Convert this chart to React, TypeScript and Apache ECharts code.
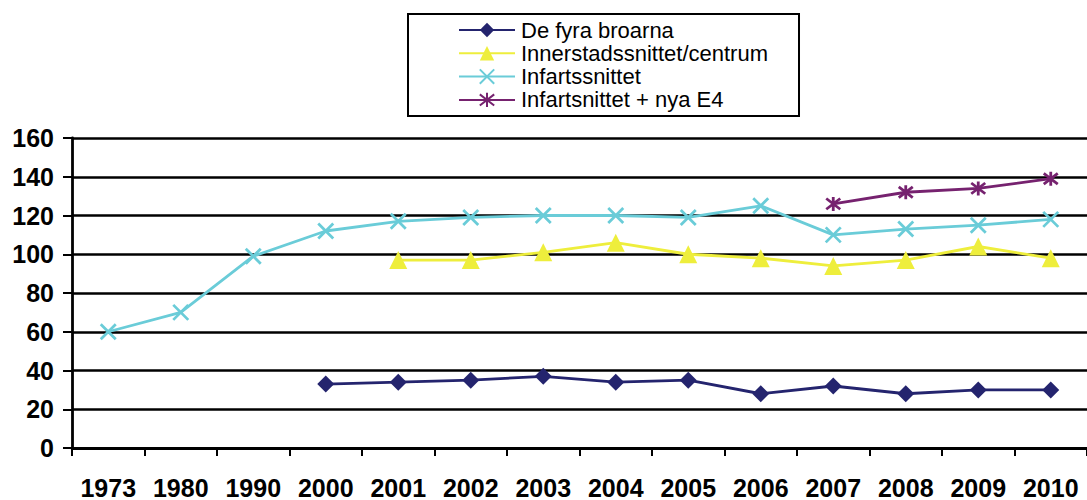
import React, { useEffect, useRef } from "react";
import * as echarts from "echarts";

const years = ["1973", "1980", "1990", "2000", "2001", "2002", "2003", "2004", "2005", "2006", "2007", "2008", "2009", "2010"];
const deFyraBroarna = [null, null, null, 33, 34, 35, 37, 34, 35, 28, 32, 28, 30, 30];
const innerstadssnittet = [null, null, null, null, 97, 97, 101, 106, 100, 98, 94, 97, 104, 98];
const infartssnittet = [60, 70, 99, 112, 117, 119, 120, 120, 119, 125, 110, 113, 115, 118];
const infartsE4 = [null, null, null, null, null, null, null, null, null, null, 126, 132, 134, 139];
const yTicks = { min: 0, max: 160, interval: 20 };

const FONT = "'Liberation Sans', Arial, sans-serif";
const X_SYMBOL = "path://M0,0L10,10M10,0L0,10";
const STAR_SYMBOL = "path://M0,0L10,10M10,0L0,10M5,-1.5L5,11.5";

export default function App() {
  const ref = useRef<HTMLDivElement>(null);
  useEffect(() => {
    if (!ref.current) return;
    const chart = echarts.init(ref.current, undefined, { renderer: "svg" });
    const mk = (name: string, data: any[], color: string, symbol: string, size: number, stroke: boolean) => ({
      name,
      type: "line",
      data,
      symbol,
      symbolSize: size,
      showSymbol: true,
      lineStyle: { color, width: 2.8 },
      itemStyle: stroke
        ? { color: color, borderColor: color, borderWidth: 2.8 }
        : { color, borderWidth: 0 },
      emphasis: { disabled: true },
    });
    chart.setOption({
      animation: false,
      textStyle: { fontFamily: FONT },
      legend: {
        orient: "vertical",
        left: 408,
        top: 14,
        itemWidth: 56,
        itemHeight: 18,
        itemGap: 1.3,
        padding: [5, 31, 5, 50],
        borderColor: "#000",
        borderWidth: 2,
        textStyle: { fontSize: 22, color: "#000", fontFamily: FONT, padding: [0, 0, 0, 1] },
        data: ["De fyra broarna", "Innerstadssnittet/centrum", "Infartssnittet", "Infartsnittet + nya E4"],
      },
      grid: { left: 72, top: 138, width: 1020, height: 313 },
      xAxis: {
        type: "category",
        data: years,
        boundaryGap: true,
        axisLine: { lineStyle: { color: "#000", width: 2.8 } },
        axisTick: { show: true, interval: 0, length: 8, lineStyle: { color: "#000", width: 2 } },
        axisLabel: { interval: 0, fontSize: 25, fontWeight: "bold", color: "#000", margin: 27, fontFamily: FONT },
      },
      yAxis: {
        type: "value",
        min: yTicks.min,
        max: yTicks.max,
        interval: yTicks.interval,
        axisLine: { show: true, lineStyle: { color: "#000", width: 2.8 } },
        axisTick: { show: true, length: 9, lineStyle: { color: "#000", width: 2 } },
        axisLabel: { fontSize: 25, fontWeight: "bold", color: "#000", margin: 18, fontFamily: FONT },
        splitLine: { show: true, lineStyle: { color: "#000", width: 2.5 } },
      },
      series: [
        mk("De fyra broarna", deFyraBroarna, "#24246E", "diamond", 17, false),
        mk("Innerstadssnittet/centrum", innerstadssnittet, "#EEEE3C", "triangle", 18, false),
        mk("Infartssnittet", infartssnittet, "#6ACCD8", X_SYMBOL, 15, true),
        mk("Infartsnittet + nya E4", infartsE4, "#76226F", STAR_SYMBOL, 14, true),
      ],
    });
    return () => chart.dispose();
  }, []);
  return (
    <div
      ref={ref}
      style={{ position: "absolute", left: 0, top: 0, width: 1087, height: 500, background: "#fff" }}
    />
  );
}
